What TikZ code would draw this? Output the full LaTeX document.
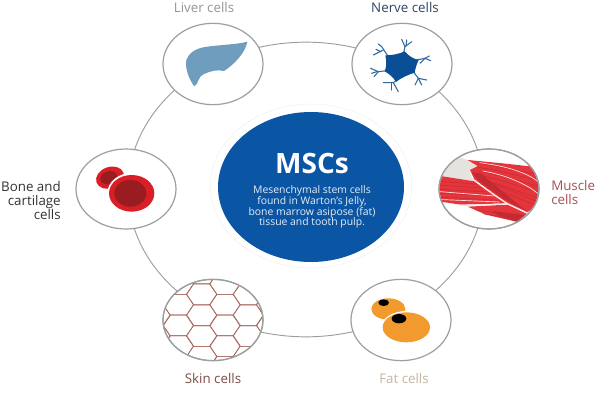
\documentclass[tikz,border=0pt]{standalone}
\usepackage{fontspec}
\setmainfont{Open Sans}
\usetikzlibrary{shapes.geometric}
\definecolor{ringgrey}{HTML}{9A9FA0}
\definecolor{mscblue}{HTML}{0B55A5}
\definecolor{liverblue}{HTML}{6F9DBD}
\definecolor{nerveblue}{HTML}{0A4E96}
\definecolor{dendriteblue}{HTML}{2F6A9E}
\definecolor{musclered}{HTML}{E4353D}
\definecolor{muscledark}{HTML}{C42A32}
\definecolor{tendon}{HTML}{E6E3DE}
\definecolor{cellred}{HTML}{D81F26}
\definecolor{celldark}{HTML}{981C20}
\definecolor{skinline}{HTML}{A9655E}
\definecolor{fatorange}{HTML}{F29A2E}
\tikzset{
  cellbox/.style={ellipse,draw=ringgrey,line width=0.9pt,fill=white,minimum width=75pt,minimum height=61pt,inner sep=0pt},
  celledge/.style={ellipse,draw=ringgrey,line width=0.9pt,minimum width=75pt,minimum height=61pt,inner sep=0pt},
  celllabel/.style={font=\fontsize{10}{10.5}\selectfont,inner sep=0pt},
  dendrite/.style={draw=dendriteblue,line width=0.8pt,line cap=round,line join=round},
  fibre/.style={draw=muscledark,line width=0.35pt},
  gap/.style={draw=white!90!red,line width=0.5pt},
  comb/.style={draw=skinline,line width=0.5pt,line join=round}
}
\begin{document}
\begin{tikzpicture}[x=0.75pt,y=-0.75pt]
\useasboundingbox[fill=white] (0,0) rectangle (600,400);

% Ring that carries the cell types
\node[ellipse,draw=ringgrey,line width=0.7pt,minimum width=267pt,minimum height=221pt,inner sep=0pt] (ring) at (306,189.5) {};

% Central disc with its pale outer rim
\node[ellipse,draw=tendon!60,line width=0.3pt,fill=white,minimum width=151pt,minimum height=123pt,inner sep=0pt] (rim) at (311,186) {};
\node[ellipse,fill=mscblue,minimum width=139.5pt,minimum height=112.5pt,inner sep=0pt] (msc) at (311,187) {};
\node[text=white,font=\fontsize{21}{24}\bfseries\selectfont,inner sep=0pt] (msctitle) at (312,163) {MSCs};
\node[text=white!90!mscblue,font=\fontsize{7.8}{8}\selectfont,align=center,inner sep=0pt] (msctext) at (312,207) {Mesenchymal stem cells\\found in Warton’s Jelly,\\bone marrow asipose (fat)\\tissue and tooth pulp.};

% Cell types around the ring
\node[cellbox] (liver) at (213,64) {};
\node[cellbox] (nerve) at (402,64) {};
\node[cellbox,minimum height=60pt] (muscle) at (489,189) {};
\node[cellbox,minimum height=60pt] (bone) at (126,189) {};
\node[cellbox] (skin) at (213,320) {};
\node[cellbox] (fat) at (401,320) {};

% Liver
\begin{scope}[shift={(140,0)},scale=1/3]
  \fill[liverblue] (322,125) .. controls (290,134) and (240,134) .. (195,141)
    .. controls (165,146) and (146,160) .. (139,180)
    .. controls (134,205) and (148,240) .. (163,259)
    .. controls (176,252) and (174,228) .. (192,222)
    .. controls (212,213) and (232,208) .. (252,213)
    .. controls (280,195) and (316,160) .. cycle;
\end{scope}

% Neuron
\begin{scope}[shift={(360,30)},scale=1/3]
  \draw[dendrite] (130,72) -- (135,50) -- (125,28);
  \draw[dendrite] (135,50) -- (155,35);
  \draw[dendrite] (138,48) -- (140,30);
  \draw[dendrite] (85,80) -- (65,50) -- (55,42);
  \draw[dendrite] (70,60) -- (40,75);
  \draw[dendrite] (62,65) -- (48,58);
  \draw[dendrite] (170,90) -- (195,85) -- (212,92);
  \draw[dendrite] (195,85) -- (180,100);
  \draw[dendrite] (195,85) -- (208,78);
  \draw[dendrite] (80,122) -- (55,125) -- (32,115);
  \draw[dendrite] (55,125) -- (42,140);
  \draw[dendrite] (50,125) -- (35,130);
  \draw[dendrite] (110,150) -- (100,158) -- (70,158);
  \draw[dendrite] (100,158) -- (115,185);
  \draw[dendrite] (95,160) -- (95,180);
  \draw[dendrite] (160,125) -- (175,145) -- (200,150);
  \draw[dendrite] (175,145) -- (165,165);
  \draw[dendrite] (175,145) -- (185,165);
  \fill[nerveblue] (76,76) .. controls (95,76) and (118,72) .. (134,64)
    .. controls (144,76) and (158,86) .. (176,90)
    .. controls (170,102) and (166,116) .. (164,128)
    .. controls (145,134) and (122,144) .. (108,156)
    .. controls (100,142) and (88,132) .. (74,124)
    .. controls (80,110) and (80,92) .. cycle;
\end{scope}

% Muscle fibres, kept inside the cell outline
\begin{scope}
  \clip (489,189) ellipse [x radius=49.4,y radius=39.4];
  \begin{scope}[shift={(436,146)},scale=1/3]
    \fill[tendon] (10,100) -- (60,30) -- (95,42) -- (125,60) -- (100,72) -- (105,92) -- (118,106) -- cycle;
    \fill[musclered] (95,42) -- (200,52) -- (290,62) -- (320,130) -- (310,175) -- (272,200) -- (216,174) -- (115,100) -- (102,72) -- (125,60) -- cycle;
    \fill[musclered] (0,88) -- (115,106) -- (215,172) -- (75,176) -- (0,165) -- cycle;
    \fill[musclered] (95,182) -- (215,176) -- (272,203) -- (245,228) -- (150,206) -- cycle;
    \fill[muscledark] (108,78) -- (135,82) -- (272,196) -- (205,160) -- (125,103) -- cycle;
    \fill[muscledark] (170,195) -- (265,207) -- (240,226) -- (185,208) -- cycle;
    \foreach \a/\b in {52/88,64/105,76/122,88/140,100/158}
      \draw[fibre] (125,\a) .. controls (190,\a+8) and (270,\b-8) .. (320,\b);
    \foreach \a/\b in {112/165,126/178}
      \draw[fibre] (170,\a) -- (300,\b);
    \foreach \y/\z in {105/118,117/128,129/139,141/150,153/162}
      \draw[fibre] (0,\y) -- (170,\z);
    \draw[gap] (0,136) -- (175,150);
    \draw[gap] (0,160) -- (190,168);
    \draw[gap] (130,50) .. controls (210,60) and (280,80) .. (315,115);
    \draw[gap] (140,75) .. controls (200,85) and (270,110) .. (315,150);
    \draw[gap,line width=1pt] (115,103) .. controls (150,130) and (190,158) .. (216,174) -- (272,200);
    \draw[gap,line width=0.9pt] (70,178) -- (216,174);
    \draw[fibre] (120,192) -- (262,212);
    \draw[fibre] (140,203) -- (250,222);
  \end{scope}
\end{scope}
\node[celledge,minimum height=60pt] (muscleedge) at (489,189) {};

% Red bone cells
\begin{scope}[shift={(0,140)},scale=1/3]
  \fill[cellred,rotate around={20:(330,113)}] (330,113) ellipse [x radius=43,y radius=32];
  \fill[celldark,rotate around={20:(326,113)}] (326,113) ellipse [x radius=26,y radius=19];
  \fill[white] (395,160) ellipse [x radius=73,y radius=61];
  \fill[cellred] (395,160) ellipse [x radius=68,y radius=55];
  \fill[celldark] (391,160) ellipse [x radius=48,y radius=40];
\end{scope}

% Skin honeycomb, kept inside the cell outline
\begin{scope}
  \clip (213,320) ellipse [x radius=49.5,y radius=40.2];
  \begin{scope}[shift={(160,276)},scale=1/3]
    \foreach \cx/\cy in {125/55,125/118,125/180,125/242,125/-8,
                         195/24,195/86,195/148,195/210,195/272,
                         55/24,55/86,55/148,55/210,
                         265/55,265/118,265/180,265/242,
                         -15/55,-15/118,-15/180,
                         335/24,335/86,335/148,335/210}
      \draw[comb] (\cx-46,\cy) -- (\cx-25,\cy-31) -- (\cx+25,\cy-31)
        -- (\cx+46,\cy) -- (\cx+25,\cy+31) -- (\cx-25,\cy+31) -- cycle;
  \end{scope}
\end{scope}
\node[celledge] (skinedge) at (213,320) {};

% Fat cells
\begin{scope}[shift={(340,270)},scale=1/3]
  \fill[fatorange] (145,117) ellipse [x radius=51,y radius=32];
  \fill[black] (131,98) ellipse [x radius=16,y radius=10];
  \fill[white] (199,172) ellipse [x radius=75,y radius=49];
  \fill[fatorange] (199,172) ellipse [x radius=71,y radius=45];
  \fill[black] (177,146) ellipse [x radius=22,y radius=14];
\end{scope}

% Labels
\node[celllabel,text=ringgrey!95!black] (liverlabel) at (204,7) {Liver cells};
\node[celllabel,text=black!50!nerveblue!85] (nervelabel) at (405,7) {Nerve cells};
\node[celllabel,text=musclered!65!black!80,align=left,anchor=west] (musclelabel) at (551,192) {Muscle\\cells};
\node[celllabel,text=black!80,align=right,anchor=east] (bonelabel) at (61,200) {Bone and\\cartilage\\cells};
\node[celllabel,text=skinline!75!black] (skinlabel) at (213,378) {Skin cells};
\node[celllabel,text=fatorange!45!black!40] (fatlabel) at (404,378) {Fat cells};
\end{tikzpicture}
\end{document}
